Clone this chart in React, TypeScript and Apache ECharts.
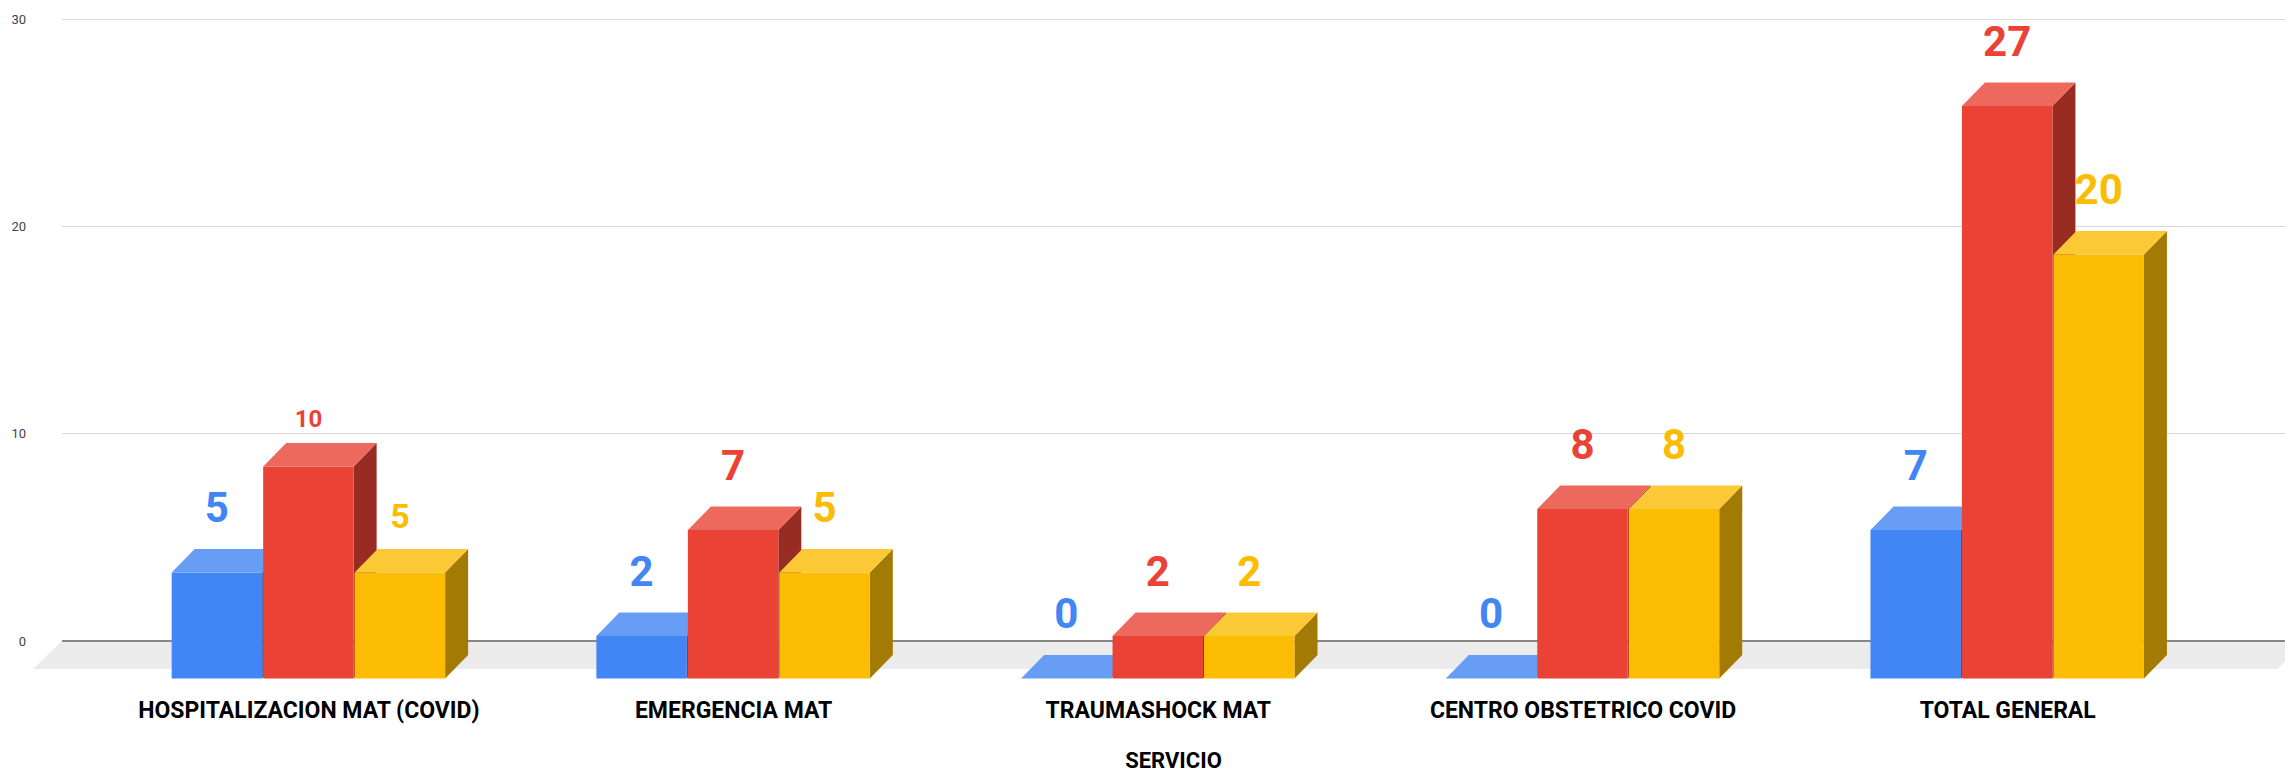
import { useEffect, useRef } from "react";
import * as echarts from "echarts";

// ---- data ----
const categories = [
  "HOSPITALIZACION MAT (COVID)",
  "EMERGENCIA MAT",
  "TRAUMASHOCK MAT",
  "CENTRO OBSTETRICO COVID",
  "TOTAL GENERAL",
];
const seriesNames = ["Serie 1", "Serie 2", "Serie 3"];
const serie1 = [5, 2, 0, 0, 7];
const serie2 = [10, 7, 2, 8, 27];
const serie3 = [5, 5, 2, 8, 20];
const yMin = 0;
const yMax = 30;
const yInterval = 10;
const axisTitle = "SERVICIO";

// ---- styles ----
const FONT = "Roboto, Arial, sans-serif";
const palettes = [
  { front: "#4285f4", top: "#689df6", side: "#2b569f" },
  { front: "#ea4335", top: "#ee695d", side: "#982c22" },
  { front: "#fbbc04", top: "#fcc936", side: "#a37a03" },
];
const labelSizes = [
  [42, 42, 42, 42, 42],
  [24, 42, 42, 42, 42],
  [34, 42, 42, 42, 42],
];
const DX = 23; // oblique depth offset of bars
const DY = 23.5;
const BAR_FRAC = 0.2154;
const FLOOR_DX = 29;
const FLOOR_DY = 28;

const makeBarRender = (si: number) => (params: any, api: any) => {
  const cat = api.value(0);
  const val = api.value(1);
  const base = api.coord([cat, 0]);
  const top = api.coord([cat, val]);
  const band = api.size([1, 0])[0];
  const w = band * BAR_FRAC;
  const cx = base[0] + (si - 1) * w;
  const x0 = cx - w / 2;
  const x1 = x0 + w - 1;
  const yb = base[1];
  const yt = top[1];
  const p = palettes[si];
  const children: any[] = [];
  if (yb - yt > 0.5) {
    children.push({
      type: "polygon",
      shape: { points: [[x1, yt + DY], [x1 + DX, yt], [x1 + DX, yb], [x1, yb + DY]] },
      style: { fill: p.side },
    });
    children.push({
      type: "rect",
      shape: { x: x0, y: yt + DY, width: x1 - x0, height: yb - yt },
      style: { fill: p.front },
    });
  }
  children.push({
    type: "polygon",
    shape: { points: [[x0, yt + DY], [x1, yt + DY], [x1 + DX, yt], [x0 + DX, yt]] },
    style: { fill: p.top },
  });
  const fs = labelSizes[si][params.dataIndex];
  children.push({
    type: "text",
    x: (x0 + x1) / 2,
    y: yt - fs * 0.98,
    z2: 20,
    style: {
      text: String(val),
      fill: p.front,
      fontSize: fs,
      fontWeight: "bold",
      fontFamily: FONT,
      align: "center",
      verticalAlign: "middle",
    },
  });
  return { type: "group", children };
};

const floorRender = (params: any) => {
  const cs = params.coordSys;
  const yb = cs.y + cs.height;
  const xr = cs.x + cs.width + 21;
  return {
    type: "group",
    children: [
      {
        type: "polygon",
        shape: {
          points: [
            [cs.x, yb],
            [xr, yb],
            [xr - FLOOR_DX, yb + FLOOR_DY],
            [cs.x - FLOOR_DX, yb + FLOOR_DY],
          ],
        },
        style: { fill: "#ebebeb" },
      },
      {
        type: "line",
        shape: { x1: cs.x, y1: yb, x2: xr, y2: yb },
        style: { stroke: "#888888", lineWidth: 2 },
      },
    ],
  };
};

export default function App() {
  const ref = useRef<HTMLDivElement>(null);
  useEffect(() => {
    document.body.style.margin = "0";
    document.body.style.overflow = "hidden";
    const chart = echarts.init(ref.current!, null, { renderer: "svg" });
    const allSeries = [serie1, serie2, serie3];
    chart.setOption({
      animation: false,
      backgroundColor: "#ffffff",
      grid: [
        { left: 96.55, right: 64.95, top: 19, bottom: 121 },
        { left: 62, right: 0, top: 19, bottom: 121 },
      ],
      xAxis: [
        {
          gridIndex: 0,
          type: "category",
          data: categories,
          boundaryGap: true,
          axisLine: { show: false },
          axisTick: { show: false },
          splitLine: { show: false },
          axisLabel: {
            interval: 0,
            margin: 44,
            fontSize: 23,
            fontWeight: "bold",
            color: "#000000",
            fontFamily: FONT,
          },
        },
        {
          gridIndex: 1,
          type: "value",
          min: 0,
          max: 1,
          axisLine: { show: false },
          axisTick: { show: false },
          axisLabel: { show: false },
          splitLine: { show: false },
          name: axisTitle,
          nameLocation: "middle",
          nameGap: 108,
          nameTextStyle: {
            fontSize: 22,
            fontWeight: "bold",
            color: "#000000",
            fontFamily: FONT,
          },
        },
      ],
      yAxis: [
        { gridIndex: 0, type: "value", min: yMin, max: yMax, interval: yInterval, show: false },
        {
          gridIndex: 1,
          type: "value",
          min: yMin,
          max: yMax,
          interval: yInterval,
          axisLine: { show: false },
          axisTick: { show: false },
          axisLabel: { margin: 36, fontSize: 13, color: "#444444", fontFamily: FONT },
          splitLine: { lineStyle: { color: "#d9d9d9", width: 1 } },
        },
      ],
      series: [
        {
          type: "custom",
          name: "floor",
          xAxisIndex: 1,
          yAxisIndex: 1,
          z: 1,
          silent: true,
          data: [[0, 0]],
          renderItem: floorRender,
        },
        ...allSeries.map((vals, si) => ({
          type: "custom",
          name: seriesNames[si],
          xAxisIndex: 0,
          yAxisIndex: 0,
          z: 2,
          encode: { x: 0, y: 1 },
          data: vals.map((v, i) => [i, v]),
          renderItem: makeBarRender(si),
        })),
      ],
    });
    return () => chart.dispose();
  }, []);
  return <div ref={ref} style={{ width: 2285, height: 776 }} />;
}
